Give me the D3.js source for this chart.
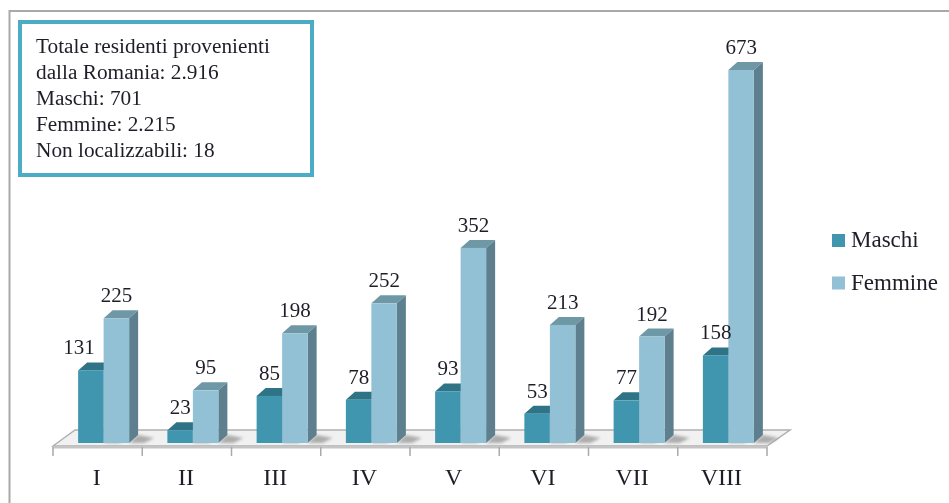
<!DOCTYPE html>
<html>
<head>
<meta charset="utf-8">
<script src="https://cdn.jsdelivr.net/npm/d3@7"></script>
<style>
body { margin: 0; background: #fff; }
svg { display: block; filter: blur(0.45px); }
text { font-family: "Liberation Serif", serif; fill: #1e1e28; }
</style>
</head>
<body>
<svg id="chart" width="949" height="503"></svg>
<script>
var categories = ["I", "II", "III", "IV", "V", "VI", "VII", "VIII"];
var maschi = [131, 23, 85, 78, 93, 53, 77, 158];
var femmine = [225, 95, 198, 252, 352, 213, 192, 673];
var seriesNames = ["Maschi", "Femmine"];
var noteLines = [
    "Totale residenti provenienti",
    "dalla Romania: 2.916",
    "Maschi: 701",
    "Femmine: 2.215",
    "Non localizzabili: 18"
];

var svg = d3.select("#chart");

var x = d3.scaleBand().domain(categories).range([53, 767]);
var y = d3.scaleLinear().domain([0, 673]).range([443, 70]);
var dx = 9, dy = 8;
var barW = 25.5;
var barShift = 6;

var defs = svg.append("defs");
defs.append("filter")
    .attr("id", "soft")
    .attr("x", "-50%").attr("y", "-50%")
    .attr("width", "200%").attr("height", "200%")
    .append("feGaussianBlur")
    .attr("stdDeviation", 1.6);

// outer frame, only top and left survive in the scan
svg.append("path")
    .attr("d", "M949,11H9.5V503")
    .attr("fill", "none")
    .attr("stroke", "#a9a9a9")
    .attr("stroke-width", 2);

// floor
var fl = x.range()[0], fr = x.range()[1];
svg.append("path")
    .attr("d", "M" + fl + ",446L" + (fl + 22) + ",430H" + (fr + 23) + "L" + fr + ",446Z")
    .attr("fill", "#f1f1f1")
    .attr("stroke", "#b0b0b0")
    .attr("stroke-width", 1.5);
svg.append("rect")
    .attr("x", fl).attr("y", 446)
    .attr("width", fr - fl).attr("height", 2.5)
    .attr("fill", "#c4c4c4");

var ticks = categories.map(function(c) { return x(c); }).concat([fr]);
svg.selectAll(".tick-mark")
    .data(ticks)
    .enter()
    .append("line")
    .attr("class", "tick-mark")
    .attr("x1", function(d) { return d; })
    .attr("x2", function(d) { return d; })
    .attr("y1", 447)
    .attr("y2", 456)
    .attr("stroke", "#a9a9a9")
    .attr("stroke-width", 1.5);

var axis = svg.append("g")
    .attr("transform", "translate(-1,448)")
    .call(d3.axisBottom(x).tickSize(0).tickPadding(0));
axis.select(".domain").remove();
axis.selectAll("text")
    .attr("font-size", 24)
    .attr("dy", null)
    .attr("y", 37);

function drawBars(values, offset, front, top, side, name) {
    var g = svg.append("g").attr("class", name);
    var bars = g.selectAll("g")
        .data(values)
        .enter()
        .append("g");

    function left(d, i) { return x(categories[i]) + x.bandwidth() / 2 + barShift + offset; }

    // floor shadow to the right of the column
    bars.append("path")
        .attr("d", function(d, i) {
            var l = left(d, i);
            return "M" + (l + barW) + ",443l" + dx + ",-8l16,3l-10,5Z";
        })
        .attr("fill", "#8f8f8f")
        .attr("opacity", 0.7)
        .attr("filter", "url(#soft)");
    bars.append("path")
        .attr("d", function(d, i) {
            var l = left(d, i);
            return "M" + l + "," + y(d) + "l" + dx + "," + (-dy) + "h" + barW + "l" + (-dx) + "," + dy + "Z";
        })
        .attr("fill", top);
    bars.append("path")
        .attr("d", function(d, i) {
            var l = left(d, i) + barW;
            return "M" + l + "," + y(d) + "l" + dx + "," + (-dy) + "V" + (y(0) - dy) + "l" + (-dx) + "," + dy + "Z";
        })
        .attr("fill", side);
    bars.append("rect")
        .attr("x", left)
        .attr("y", function(d) { return y(d); })
        .attr("width", barW)
        .attr("height", function(d) { return y(0) - y(d); })
        .attr("fill", front);
}

drawBars(maschi, -barW, "#4095af", "#2f7486", "#2f7486", "maschi");
drawBars(femmine, 0, "#92c0d4", "#6f98a6", "#5e808e", "femmine");

function drawLabels(values, offset, cls) {
    svg.selectAll("." + cls)
        .data(values)
        .enter()
        .append("text")
        .attr("class", cls)
        .attr("x", function(d, i) {
            var c = x(categories[i]) + x.bandwidth() / 2 + barShift + offset;
            // 131 sits further left in the original
            return d === 131 ? c - 12 : c;
        })
        .attr("y", function(d) { return y(d) - 16; })
        .attr("text-anchor", "middle")
        .attr("font-size", 21)
        .text(function(d) { return d; });
}
drawLabels(maschi, -barW / 2, "label-m");
drawLabels(femmine, barW / 2, "label-f");

// note box
svg.append("rect")
    .attr("x", 20).attr("y", 22)
    .attr("width", 292).attr("height", 153)
    .attr("fill", "#fff")
    .attr("stroke", "#4bacc6")
    .attr("stroke-width", 4);
svg.selectAll(".note")
    .data(noteLines)
    .enter()
    .append("text")
    .attr("class", "note")
    .attr("x", 36)
    .attr("y", function(d, i) { return 53 + i * 26.1; })
    .attr("font-size", 21.3)
    .text(function(d) { return d; });

// legend
var legendColors = ["#4095af", "#92c0d4"];
var legend = svg.selectAll(".legend")
    .data(seriesNames)
    .enter()
    .append("g")
    .attr("class", "legend")
    .attr("transform", function(d, i) { return "translate(832," + (234 + i * 42.5) + ")"; });
legend.append("rect")
    .attr("width", 13)
    .attr("height", 13)
    .attr("fill", function(d, i) { return legendColors[i]; });
legend.append("text")
    .attr("x", 19)
    .attr("y", 13)
    .attr("font-size", 23)
    .text(function(d) { return d; });
</script>
</body>
</html>
